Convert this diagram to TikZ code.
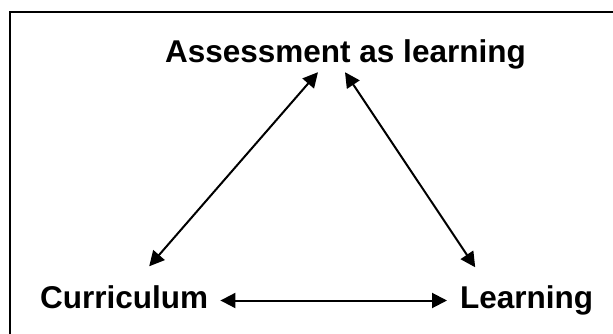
\documentclass[tikz,border=0pt]{standalone}
\usepackage{fontspec}
\setmainfont{Liberation Sans}
\usetikzlibrary{arrows.meta}
\begin{document}
\begin{tikzpicture}[x=1pt,y=1pt,
  lbl/.style={inner sep=0pt,text height=23pt,text depth=7pt,
    font=\fontsize{31.5}{36}\selectfont\bfseries},
  biarrow/.style={line width=2pt,
    {Triangle[length=15pt,width=15pt]}-{Triangle[length=15pt,width=15pt]}},
  frame/.style={line width=1.5pt}]
\useasboundingbox (0,0) rectangle (613,-334);
\draw[frame] (10,-334) -- (10,-12) -- (613,-12);
\node[lbl,anchor=base] (title) at (345.5,-63) {Assessment as learning};
\node[lbl,anchor=base west] (cur) at (40,-308.5) {Curriculum};
\node[lbl,anchor=base west] (learn) at (460,-308.5) {Learning};
\draw[biarrow] ([xshift=-27.5pt,yshift=-2pt]title.south) -- ([xshift=25pt,yshift=19pt]cur.north);
\draw[biarrow] ([xshift=-0.5pt,yshift=-2pt]title.south) -- ([xshift=-51.5pt,yshift=18pt]learn.north);
\draw[biarrow] ([xshift=12pt]cur.east) -- ([xshift=-13pt]learn.west);
\end{tikzpicture}
\end{document}
